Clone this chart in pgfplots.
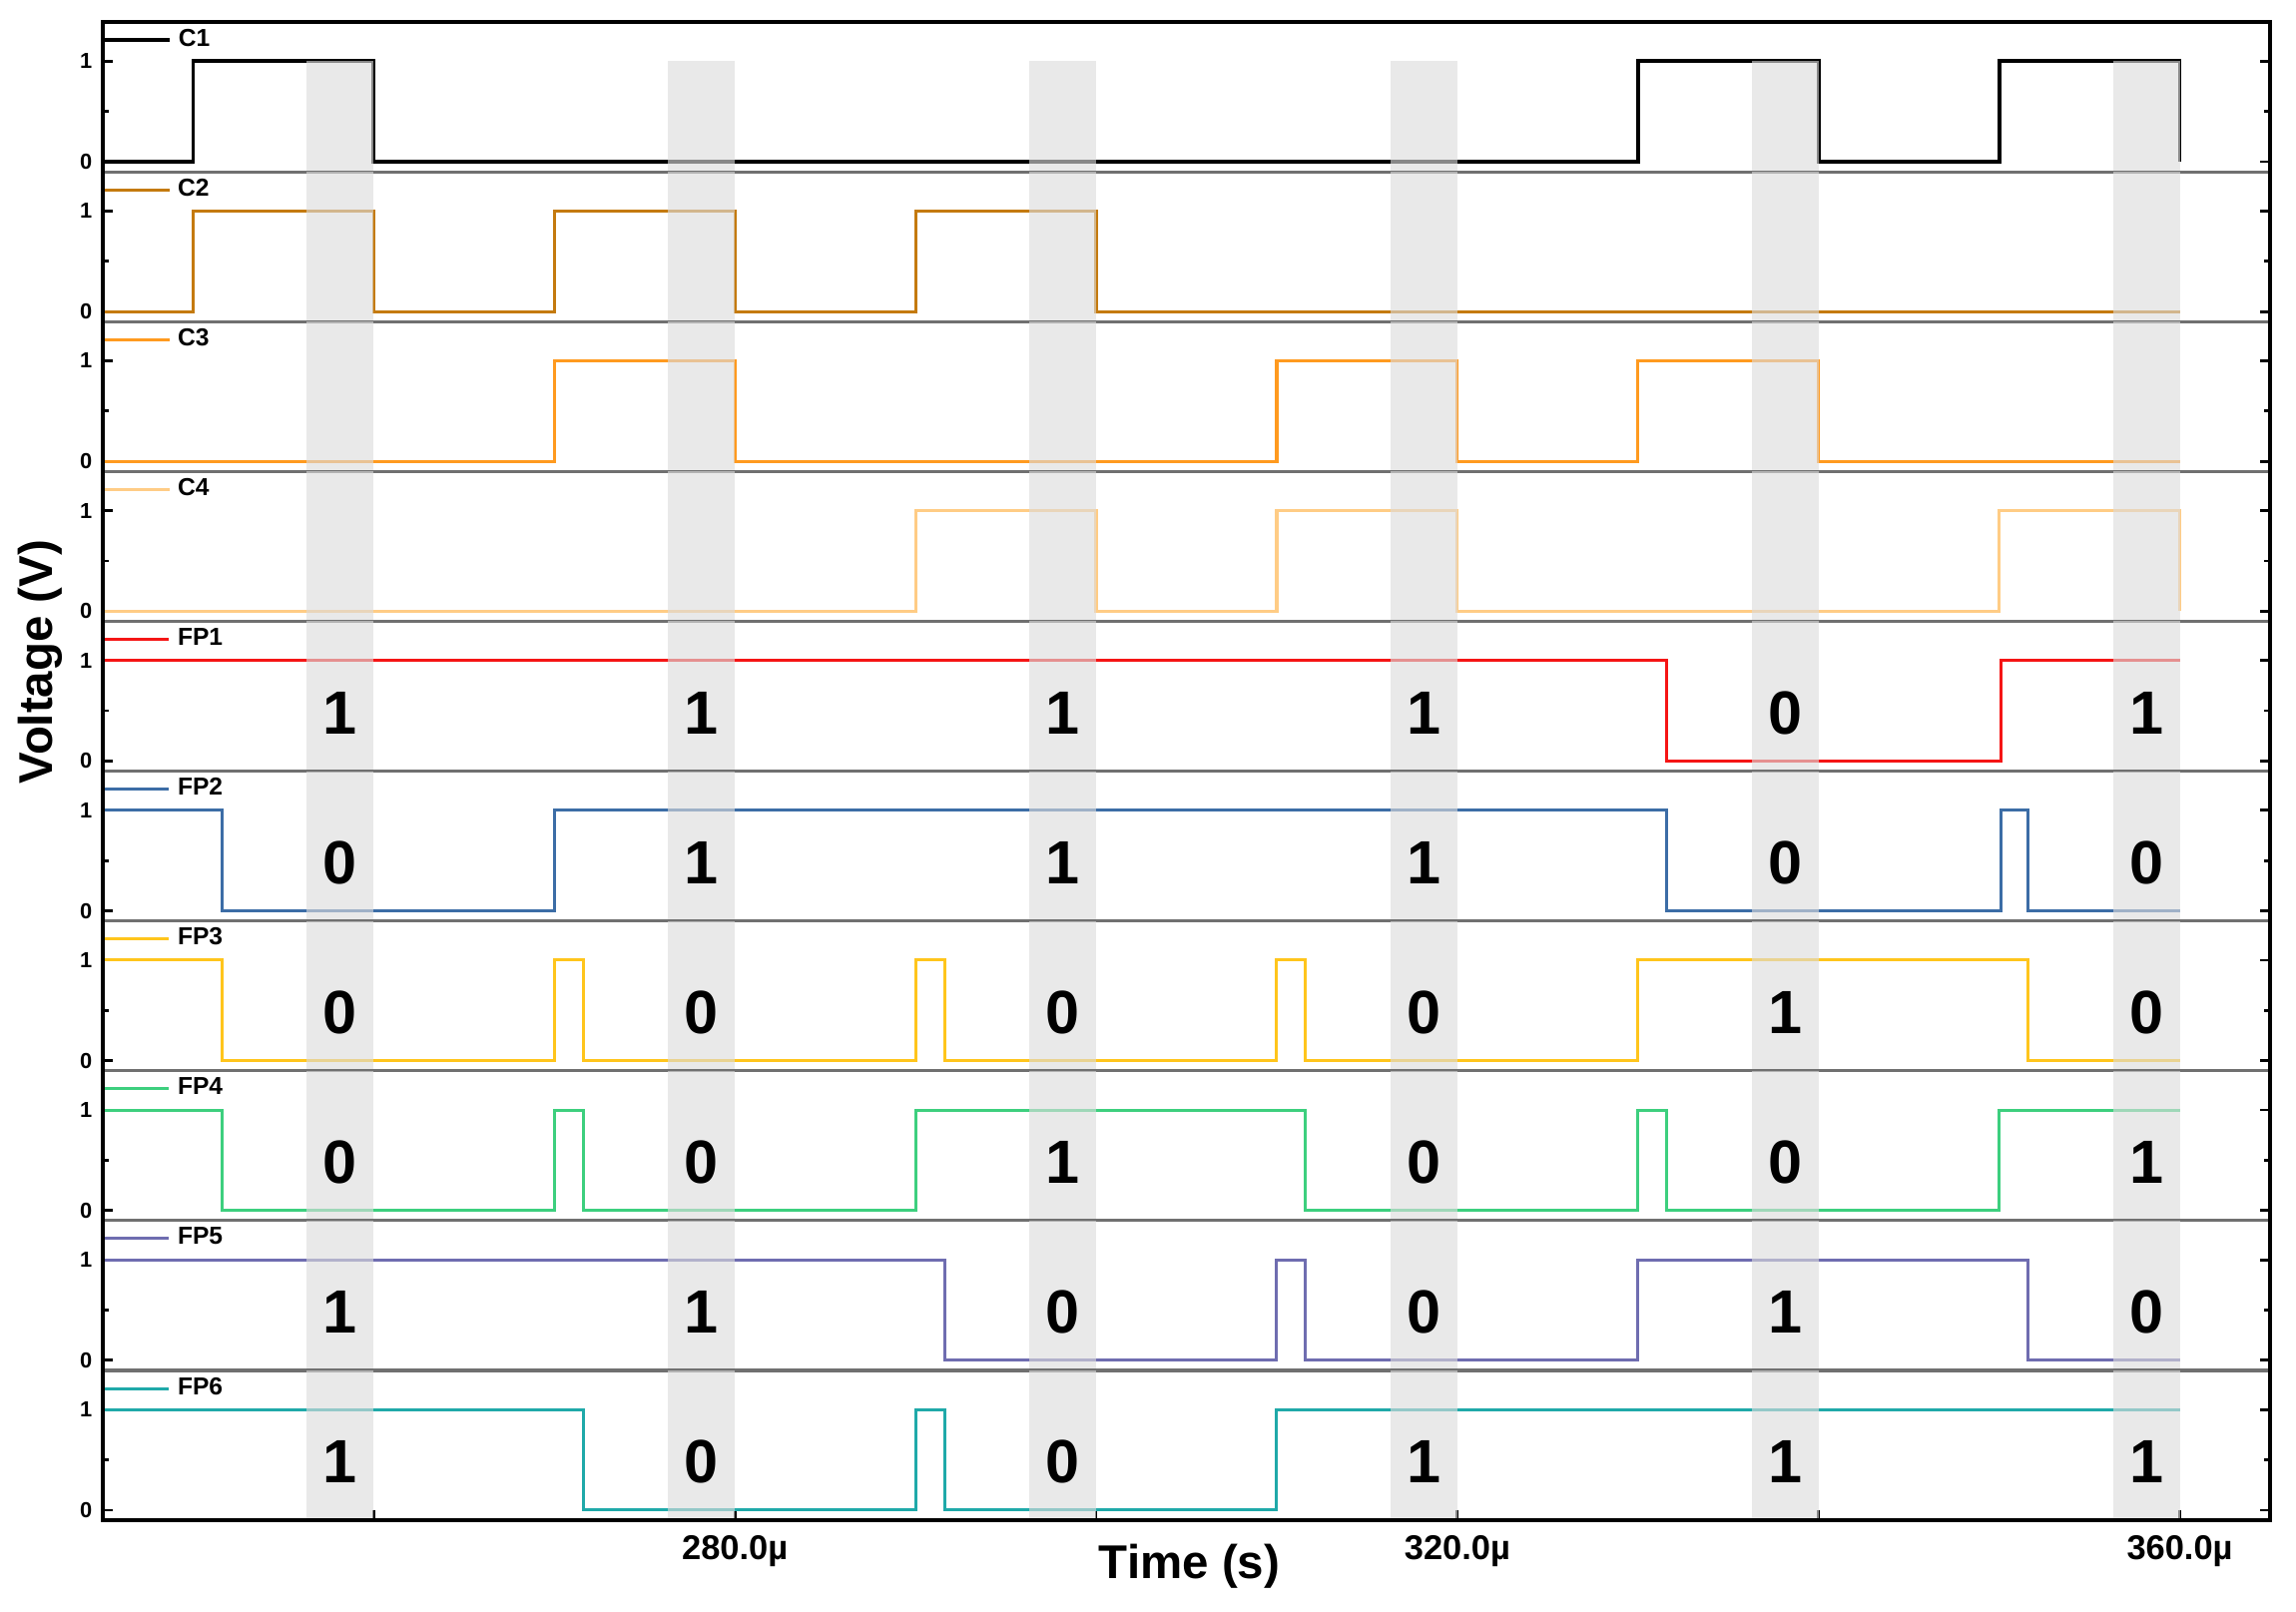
\documentclass[border=0pt]{standalone}
\usepackage{fontspec}
\setmainfont{Liberation Sans}
\usepackage{pgfplots}
\pgfplotsset{compat=1.18}
\usepgfplotslibrary{groupplots}
\usetikzlibrary{calc}

\definecolor{cC1}{HTML}{000000}
\definecolor{cC2}{HTML}{C47A0E}
\definecolor{cC3}{HTML}{FF9A1F}
\definecolor{cC4}{HTML}{FFCC85}
\definecolor{cF1}{HTML}{F51515}
\definecolor{cF2}{HTML}{3C6DA6}
\definecolor{cF3}{HTML}{FFC51C}
\definecolor{cF4}{HTML}{3DCF7E}
\definecolor{cF5}{HTML}{6F6DB0}
\definecolor{cF6}{HTML}{1FA9A9}
\definecolor{bandc}{HTML}{DCDCDC}
\definecolor{sepc}{HTML}{707070}

\newcommand{\bands}[2]{%
 \fill[bandc,opacity=0.62] (axis cs:256.3,#1) rectangle (axis cs:260,#2);
 \fill[bandc,opacity=0.62] (axis cs:276.3,#1) rectangle (axis cs:280,#2);
 \fill[bandc,opacity=0.62] (axis cs:296.3,#1) rectangle (axis cs:300,#2);
 \fill[bandc,opacity=0.62] (axis cs:316.3,#1) rectangle (axis cs:320,#2);
 \fill[bandc,opacity=0.62] (axis cs:336.3,#1) rectangle (axis cs:340,#2);
 \fill[bandc,opacity=0.62] (axis cs:356.3,#1) rectangle (axis cs:360,#2);
}
\newcommand{\digits}[6]{%
 \node[dig] at (axis cs:258.15,0.48) {#1};
 \node[dig] at (axis cs:278.15,0.48) {#2};
 \node[dig] at (axis cs:298.15,0.48) {#3};
 \node[dig] at (axis cs:318.15,0.48) {#4};
 \node[dig] at (axis cs:338.15,0.48) {#5};
 \node[dig] at (axis cs:358.15,0.48) {#6};
}
\tikzset{dig/.style={font=\bfseries\fontsize{17.4}{18}\selectfont, inner sep=0pt}}

\pgfplotsset{
 /pgf/number format/assume math mode=true,
 panel/.style={
  width=21.71cm, height=1.501cm, scale only axis,
  xmin=245, xmax=365, ymin=-0.1, ymax=1.39,
  ytick={0,1}, yticklabels={0,1}, minor ytick={0.5},
  ytick pos=both, yticklabel pos=left,
  tick align=inside,
  major tick length=0.1cm, minor tick length=0.06cm,
  every tick/.style={black, line width=0.8pt},
  xtick=\empty,
  axis line style={draw=sepc, line width=0.9pt},
  yticklabel style={font=\bfseries\fontsize{6.2}{7}\selectfont, inner sep=0pt, xshift=-0.1cm},
  legend style={at={(rel axis cs:0,1)}, anchor=north west, draw=none, fill=none,
   inner sep=0pt, outer sep=0pt, yshift=0cm,
   font=\bfseries\fontsize{7}{8}\selectfont},
  legend cell align=left,
  legend image code/.code={\draw[#1] (0cm,0cm) -- (0.65cm,0cm);},
  line join=miter,
 }
}

\begin{document}
\begin{tikzpicture}
\begin{groupplot}[group style={group size=1 by 10, vertical sep=0pt}, panel]
% C1
\nextgroupplot
\addplot[const plot, cC1, line width=1.1pt] coordinates {(245,0)(250,1)(260,0)(330,1)(340,0)(350,1)(360,0)};
\addlegendentry{C1}
\bands{-0.1}{1}
% C2
\nextgroupplot
\addplot[const plot, cC2, line width=0.9pt] coordinates {(245,0)(250,1)(260,0)(270,1)(280,0)(290,1)(300,0)(360,0)};
\addlegendentry{C2}
\bands{-0.1}{1.39}
% C3
\nextgroupplot
\addplot[const plot, cC3, line width=0.9pt] coordinates {(245,0)(270,1)(280,0)(310,1)(320,0)(330,1)(340,0)(360,0)};
\addlegendentry{C3}
\bands{-0.1}{1.39}
% C4
\nextgroupplot
\addplot[const plot, cC4, line width=0.9pt] coordinates {(245,0)(290,1)(300,0)(310,1)(320,0)(350,1)(360,0)};
\addlegendentry{C4}
\bands{-0.1}{1.39}
% FP1
\nextgroupplot
\addplot[const plot, cF1, line width=0.85pt] coordinates {(245,1)(331.6,0)(350.1,1)(360,1)};
\addlegendentry{FP1}
\bands{-0.1}{1.39}
\digits{1}{1}{1}{1}{0}{1}
% FP2
\nextgroupplot
\addplot[const plot, cF2, line width=0.85pt] coordinates {(245,1)(251.6,0)(270,1)(331.6,0)(350.1,1)(351.6,0)(360,0)};
\addlegendentry{FP2}
\bands{-0.1}{1.39}
\digits{0}{1}{1}{1}{0}{0}
% FP3
\nextgroupplot
\addplot[const plot, cF3, line width=0.85pt] coordinates {(245,1)(251.6,0)(270,1)(271.6,0)(290,1)(291.6,0)(310,1)(311.6,0)(330,1)(351.6,0)(360,0)};
\addlegendentry{FP3}
\bands{-0.1}{1.39}
\digits{0}{0}{0}{0}{1}{0}
% FP4
\nextgroupplot
\addplot[const plot, cF4, line width=0.85pt] coordinates {(245,1)(251.6,0)(270,1)(271.6,0)(290,1)(311.6,0)(330,1)(331.6,0)(350,1)(360,1)};
\addlegendentry{FP4}
\bands{-0.1}{1.39}
\digits{0}{0}{1}{0}{0}{1}
% FP5
\nextgroupplot
\addplot[const plot, cF5, line width=0.85pt] coordinates {(245,1)(291.6,0)(310,1)(311.6,0)(330,1)(351.6,0)(360,0)};
\addlegendentry{FP5}
\bands{-0.1}{1.39}
\digits{1}{1}{0}{0}{1}{0}
% FP6
\nextgroupplot[xtick={260,280,...,360}, xticklabels={,280.0µ,,320.0µ,,360.0µ}, xtick pos=bottom,
  xticklabel style={font=\bfseries\fontsize{9.8}{10}\selectfont, inner sep=0pt, yshift=-0.15cm}]
\addplot[const plot, cF6, line width=0.85pt] coordinates {(245,1)(271.6,0)(290,1)(291.6,0)(310,1)(360,1)};
\addlegendentry{FP6}
\bands{-0.1}{1.39}
\digits{1}{0}{0}{1}{1}{1}
\end{groupplot}
\draw[black, line width=1.1pt] (group c1r1.north west) rectangle (group c1r10.south east);
\node[rotate=90, font=\bfseries\fontsize{13.5}{14}\selectfont] at ($(group c1r1.north west)+(-0.63cm,-6.41cm)$) {Voltage (V)};
\node[font=\bfseries\fontsize{13.5}{14}\selectfont] at ($(group c1r10.south)+(0.03cm,-0.46cm)$) {Time (s)};
\pgfresetboundingbox
\path ($(group c1r10.south west)+(-1.03cm,-0.91cm)$) rectangle ($(group c1r1.north east)+(0.26cm,0.22cm)$);
\end{tikzpicture}
\end{document}
